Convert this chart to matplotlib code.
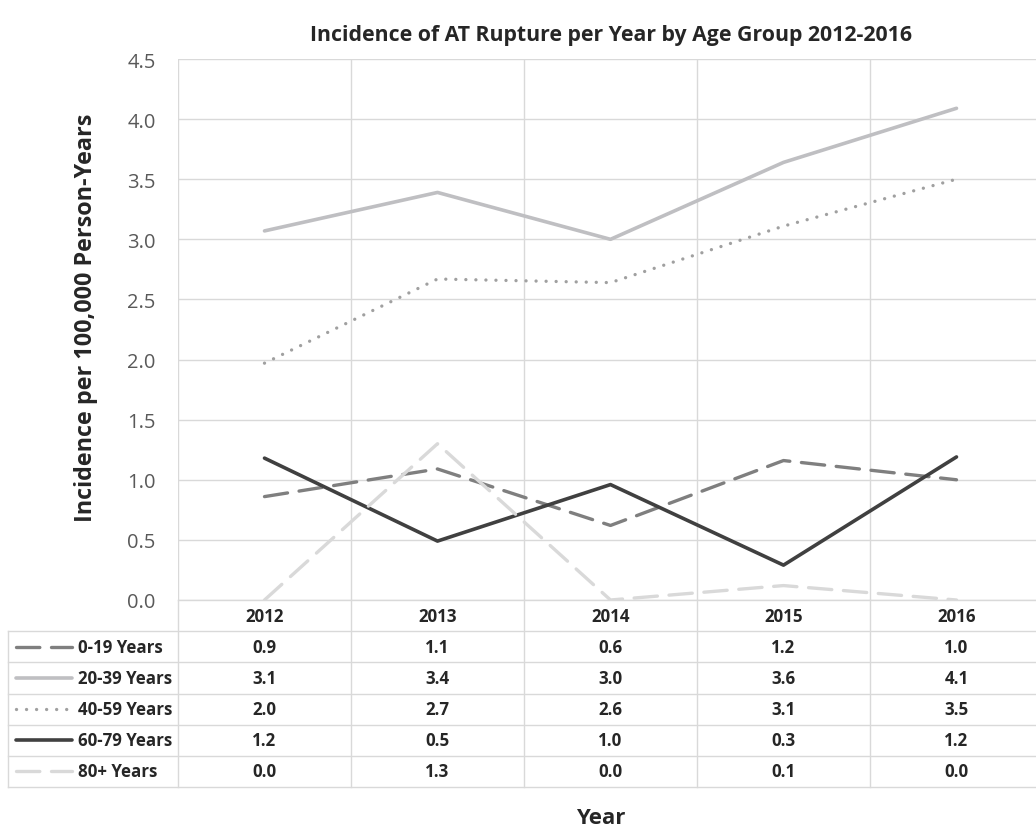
import matplotlib
matplotlib.use("Agg")
import matplotlib.pyplot as plt
import numpy as np

plt.rcParams['font.family'] = ['Open Sans', 'DejaVu Sans']

# data
years = ['2012', '2013', '2014', '2015', '2016']
groups = ['0-19 Years', '20-39 Years', '40-59 Years', '60-79 Years', '80+ Years']
age_0_19 = [0.86, 1.09, 0.62, 1.16, 1.00]
age_20_39 = [3.07, 3.39, 3.00, 3.64, 4.09]
age_40_59 = [1.97, 2.67, 2.64, 3.11, 3.50]
age_60_79 = [1.18, 0.49, 0.96, 0.29, 1.19]
age_80_plus = [0.00, 1.30, 0.00, 0.12, 0.00]
series = [age_0_19, age_20_39, age_40_59, age_60_79, age_80_plus]

# line styles (colour, width, dash pattern)
styles = [
    dict(color='#7F7F7F', lw=2.4, ls=(0, (7, 3.5)), dash_capstyle='round'),
    dict(color='#BFBFC2', lw=2.6, ls='-', solid_capstyle='round'),
    dict(color='#A0A0A0', lw=2.4, ls=(0, (0.01, 3)), dash_capstyle='round'),
    dict(color='#404040', lw=2.6, ls='-', solid_capstyle='round'),
    dict(color='#D9D9D9', lw=2.4, ls=(0, (7, 3.5)), dash_capstyle='round'),
]

W, H = 1036, 829
grid_c = '#D9D9D9'
txt_c = '#262626'
tbl_fs = 12.2

fig = plt.figure(figsize=(W / 100, H / 100), dpi=100)

# pixel layout
px_left, px_right = 178, 1043
px_top, px_bottom = 60, 601
tbl_left, tbl_bottom = 8, 788
unit = (px_right - px_left) / len(years)

ax = fig.add_axes([px_left / W, 1 - px_bottom / H,
                   (px_right - px_left) / W, (px_bottom - px_top) / H])
x = np.arange(len(years)) + 0.5
for vals, st in zip(series, styles):
    ax.plot(x, vals, color=st['color'], lw=st['lw'], ls=st['ls'],
            **{k: v for k, v in st.items() if k.endswith('capstyle')})
ax.set_xlim(0, len(years))
ax.set_ylim(0, 4.5)
ax.set_yticks(np.arange(0, 4.51, 0.5))
ax.set_yticklabels([f'{v:.1f}' for v in np.arange(0, 4.51, 0.5)])
ax.set_xticks(np.arange(0, len(years) + 1))
ax.set_xticklabels([])
ax.tick_params(axis='y', length=0, pad=16, labelsize=14.5, labelcolor='#595959')
ax.tick_params(axis='x', length=0)
ax.grid(True, color=grid_c, lw=1.0)
ax.set_axisbelow(True)
for s in ax.spines.values():
    s.set_visible(False)

# data table under the plot
legend_w = (px_left - tbl_left) / unit
tax = fig.add_axes([tbl_left / W, 1 - tbl_bottom / H,
                    (px_right - tbl_left) / W, (tbl_bottom - px_bottom) / H])
tax.set_xlim(-legend_w, len(years))
tax.set_ylim(len(groups) + 1, 0)
tax.axis('off')

for r in range(1, len(groups) + 2):
    tax.plot([-legend_w, len(years)], [r, r], color=grid_c, lw=1.0, clip_on=False)
tax.plot([0, len(years)], [0, 0], color=grid_c, lw=1.0, clip_on=False)
tax.plot([-legend_w, -legend_w], [1, len(groups) + 1], color=grid_c, lw=1.0, clip_on=False)
for c in range(0, len(years)):
    tax.plot([c, c], [0, len(groups) + 1], color=grid_c, lw=1.0, clip_on=False)

for i, yr in enumerate(years):
    tax.text(i + 0.5, 0.5, yr, ha='center', va='center', fontsize=tbl_fs,
             fontweight='bold', color=txt_c)

def px_x(p):
    return (p - tbl_left) / unit - legend_w

for r, (name, vals, st) in enumerate(zip(groups, series, styles), start=1):
    tax.plot([px_x(16), px_x(72)], [r + 0.5, r + 0.5], color=st['color'],
             lw=st['lw'], ls=st['ls'], clip_on=False,
             **{k: v for k, v in st.items() if k.endswith('capstyle')})
    tax.text(px_x(78), r + 0.5, name, ha='left', va='center', fontsize=tbl_fs,
             fontweight='bold', color=txt_c)
    for i, v in enumerate(vals):
        tax.text(i + 0.5, r + 0.5, f'{v:.1f}', ha='center', va='center',
                 fontsize=tbl_fs, fontweight='bold', color=txt_c)

fig.text(611 / W, 1 - 35 / H, 'Incidence of AT Rupture per Year by Age Group 2012-2016',
         ha='center', va='center', fontsize=15.3, fontweight='bold', color=txt_c)
fig.text(86 / W, 1 - 318 / H, 'Incidence per 100,000 Person-Years', rotation=90,
         ha='center', va='center', fontsize=16.8, fontweight='bold', color=txt_c)
fig.text(601 / W, 1 - 819 / H, 'Year', ha='center', va='center', fontsize=16,
         fontweight='bold', color=txt_c)

fig.savefig('out.png', dpi=100, facecolor='white')
